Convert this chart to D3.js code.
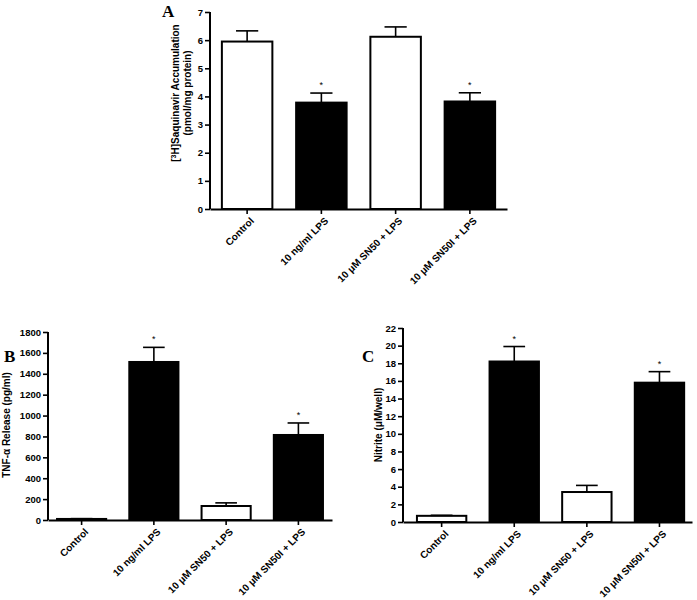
<!DOCTYPE html>
<html>
<head>
<meta charset="utf-8">
<script src="https://cdn.jsdelivr.net/npm/d3@7"></script>
<style>
  body { margin: 0; background: #fff; }
  svg { display: block; }
  text { font-family: "Liberation Sans", Arial, sans-serif; font-weight: bold; fill: #000; }
  .panel-letter { font-family: "Liberation Serif", "Times New Roman", serif; font-size: 17px; }
</style>
</head>
<body>
<div class="d3"></div>
<script>
// treatment groups (same for all three panels)
var categories = ["Control", "10 ng/ml LPS", "10 \u03bcM SN50 + LPS", "10 \u03bcM SN50I + LPS"];
var lpsFilled = [false, true, false, true];

// A: [3H]saquinavir accumulation (pmol/mg protein)
var saqMean = [5.95, 3.78, 6.12, 3.82];
var saqErr = [0.38, 0.34, 0.35, 0.31];
var saqSig = [false, true, false, true];
var saqTicks = [0, 1, 2, 3, 4, 5, 6, 7];

// B: TNF-alpha release (pg/ml)
var tnfMean = [10, 1513, 134, 814];
var tnfErr = [3, 140, 30, 115];
var tnfSig = [false, true, false, true];
var tnfTicks = [0, 200, 400, 600, 800, 1000, 1200, 1400, 1600, 1800];

// C: nitrite (uM/well)
var nitMean = [0.7, 18.2, 3.4, 15.8];
var nitErr = [0.06, 1.7, 0.75, 1.25];
var nitSig = [false, true, false, true];
var nitTicks = [0, 2, 4, 6, 8, 10, 12, 14, 16, 18, 20, 22];

var svg = d3.select(".d3").append("svg")
    .attr("width", 697)
    .attr("height", 600);

function panel(opt) {
  var data = opt.mean.map(function(m, i) {
    return {cat: categories[i], mean: m, err: opt.err[i], sig: opt.sig[i], filled: lpsFilled[i]};
  });

  var x = d3.scaleBand()
      .domain(categories)
      .range([opt.x0, opt.x1])
      .paddingInner(0.32)
      .paddingOuter(opt.outer)
      .align(opt.align);

  var y = d3.scaleLinear()
      .domain([0, opt.ticks[opt.ticks.length - 1]])
      .range([opt.y0, opt.y1]);

  var g = svg.append("g");

  // bars
  g.selectAll("rect.bar")
      .data(data)
    .enter().append("rect")
      .attr("class", "bar")
      .attr("x", function(d) { return x(d.cat); })
      .attr("y", function(d) { return y(d.mean); })
      .attr("width", x.bandwidth())
      .attr("height", function(d) { return y(0) - y(d.mean); })
      .attr("fill", function(d) { return d.filled ? "#000" : "#fff"; })
      .attr("stroke", "#000")
      .attr("stroke-width", 2);

  // upward error bars
  var cap = x.bandwidth() * 0.22;
  var eb = g.selectAll("g.err")
      .data(data)
    .enter().append("g")
      .attr("class", "err")
      .attr("stroke", "#000")
      .attr("stroke-width", 1.6);
  eb.append("line")
      .attr("x1", function(d) { return x(d.cat) + x.bandwidth() / 2; })
      .attr("x2", function(d) { return x(d.cat) + x.bandwidth() / 2; })
      .attr("y1", function(d) { return y(d.mean); })
      .attr("y2", function(d) { return y(d.mean + d.err); });
  eb.append("line")
      .attr("x1", function(d) { return x(d.cat) + x.bandwidth() / 2 - cap; })
      .attr("x2", function(d) { return x(d.cat) + x.bandwidth() / 2 + cap; })
      .attr("y1", function(d) { return y(d.mean + d.err); })
      .attr("y2", function(d) { return y(d.mean + d.err); });

  // significance stars
  g.selectAll("text.star")
      .data(data.filter(function(d) { return d.sig; }))
    .enter().append("text")
      .attr("class", "star")
      .attr("x", function(d) { return x(d.cat) + x.bandwidth() / 2; })
      .attr("y", function(d) { return y(d.mean + d.err) - 5; })
      .attr("text-anchor", "middle")
      .style("font-size", "9px")
      .style("font-weight", "normal")
      .text("*");

  // y axis
  var yAxis = d3.axisLeft(y)
      .tickValues(opt.ticks)
      .tickSize(5)
      .tickPadding(2)
      .tickFormat(d3.format("d"));
  var ya = g.append("g")
      .attr("transform", "translate(" + opt.x0 + ",0)")
      .call(yAxis);
  ya.select(".domain").attr("stroke-width", 2).attr("d", "M0," + opt.y0 + "V" + opt.y1);
  ya.selectAll(".tick line").attr("stroke-width", 1.6);
  ya.selectAll(".tick text").style("font-size", "9.5px").style("font-family", "Liberation Sans, Arial, sans-serif").style("font-weight", "bold");

  // x axis
  var xAxis = d3.axisBottom(x).tickSize(5).tickSizeOuter(0);
  var xa = g.append("g")
      .attr("transform", "translate(0," + opt.y0 + ")")
      .call(xAxis);
  xa.select(".domain").attr("stroke-width", 2);
  xa.selectAll(".tick line").attr("stroke-width", 1.6);
  xa.selectAll(".tick text")
      .style("font-size", "10px")
      .style("font-family", "Liberation Sans, Arial, sans-serif")
      .style("font-weight", "bold")
      .attr("text-anchor", "end")
      .attr("dy", "0.35em")
      .attr("y", 0)
      .attr("x", 0)
      .attr("transform", "translate(5,10) rotate(-45)");

  // y title
  var t = g.append("text")
      .attr("transform", "translate(" + opt.titleX + "," + opt.titleY + ") rotate(-90)")
      .attr("text-anchor", "middle")
      .style("font-size", "10px");
  opt.title(t);

  // panel letter
  g.append("text")
      .attr("class", "panel-letter")
      .attr("x", opt.letterX)
      .attr("y", opt.letterY)
      .text(opt.letter);
}

panel({
  mean: saqMean, err: saqErr, sig: saqSig, ticks: saqTicks,
  x0: 210, x1: 507, y0: 209, y1: 12, outer: 0.16, align: 0.5,
  titleX: 181, titleY: 93, letter: "A", letterX: 162, letterY: 17,
  title: function(t) {
    var l1 = t.append("tspan").attr("x", 0).attr("dy", "-0.2em");
    l1.append("tspan").text("[");
    l1.append("tspan").attr("baseline-shift", "super").style("font-size", "7px").text("3");
    l1.append("tspan").text("H]Saquinavir Accumulation");
    t.append("tspan").attr("x", 0).attr("dy", "1.15em").text("(pmol/mg protein)");
  }
});

panel({
  mean: tnfMean, err: tnfErr, sig: tnfSig, ticks: tnfTicks,
  x0: 48, x1: 332, y0: 520, y1: 332, outer: 0.125, align: 0.5,
  titleX: 10, titleY: 425, letter: "B", letterX: 4, letterY: 362,
  title: function(t) { t.text("TNF-\u03b1 Release (pg/ml)"); }
});

panel({
  mean: nitMean, err: nitErr, sig: nitSig, ticks: nitTicks,
  x0: 403, x1: 692, y0: 522, y1: 328, outer: 0.15, align: 0.64,
  titleX: 382, titleY: 425, letter: "C", letterX: 362, letterY: 362,
  title: function(t) { t.text("Nitrite (\u03bcM/well)"); }
});
</script>
</body>
</html>
